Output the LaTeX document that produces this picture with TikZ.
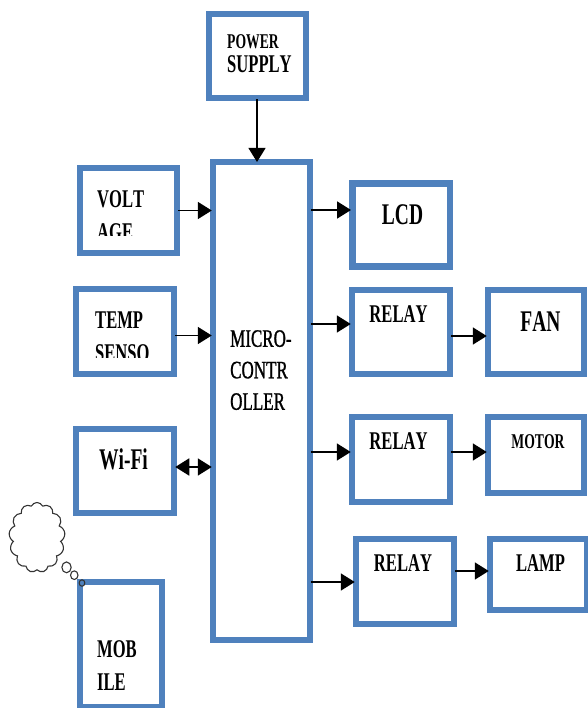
\documentclass[tikz,border=0pt]{standalone}
\usepackage{fontspec}
\usetikzlibrary{arrows.meta,shapes.callouts,shapes.symbols}
\newfontfamily\narrowbf[FakeStretch=0.65,Kerning=Off]{Liberation Serif Bold}
\newfontfamily\narrowrm[FakeStretch=0.68,FakeBold=1,Kerning=Off]{Liberation Serif}
\newcommand*{\labelsize}[2]{\fontsize{#1}{#2}\selectfont\narrowbf}
\definecolor{boxblue}{RGB}{79,129,189}

\begin{document}
\begin{tikzpicture}
[
    x = 1pt, y = -1pt,
    block/.style={draw = boxblue, line width = 6.5pt, inner sep = 0pt},
    label/.style={inner sep = 0pt, align = left, font = \labelsize{25.5}{33}},
    biglabel/.style={label, font = \labelsize{30}{33}},
    smalllabel/.style={label, font = \labelsize{21}{33}},
    arrow/.style={draw, -{Triangle[length = 14pt, width = 17pt]}, line width = 1.8pt, shorten > = -2pt, shorten < = -2pt},
    twoway/.style={arrow, {Triangle[length = 14pt, width = 17pt]}-{Triangle[length = 14pt, width = 17pt]}},
]
\useasboundingbox (0,0) rectangle (587,708);

% Blocks
\node[block, minimum width = 97pt, minimum height = 84pt] (power) at (257.5,56) {};
\node[block, minimum width = 97pt, minimum height = 478pt] (micro) at (261.5,401) {};
\node[block, minimum width = 97pt, minimum height = 85pt] (volt) at (128.5,210.5) {};
\node[block, minimum width = 98pt, minimum height = 85pt] (temp) at (125,331.5) {};
\node[block, minimum width = 98pt, minimum height = 84pt] (wifi) at (125,471) {};
\node[block, minimum width = 82pt, minimum height = 125pt] (mobile) at (121,644.5) {};
\node[block, minimum width = 97.5pt, minimum height = 83pt] (lcd) at (401,225) {};
\node[block, minimum width = 98pt, minimum height = 84pt] (relay1) at (401,332) {};
\node[block, minimum width = 98pt, minimum height = 85pt] (relay2) at (401,459.5) {};
\node[block, minimum width = 98pt, minimum height = 85pt] (relay3) at (405,581.5) {};
\node[block, minimum width = 96pt, minimum height = 84pt] (fan) at (536,332) {};
\node[block, minimum width = 96pt, minimum height = 76pt] (motor) at (536,455) {};
\node[block, minimum width = 97pt, minimum height = 71pt] (lamp) at (538.5,574.5) {};

% Labels
\node[label, anchor = north west, font = \labelsize{25.5}{24}] (powertxt) at (227,34) {{\labelsize{21}{24}POWER}\\SUPPLY};
\node[label, anchor = north west, font = \fontsize{25}{31.5}\selectfont\narrowrm] (microtxt) at (230,330) {MICRO-\\CONTR\\OLLER};
\begin{scope}
    \clip (volt.north west) rectangle (volt.east |- 0,236);
    \node[label, anchor = north west] (volttxt) at (97,190) {VOLT\\AGE};
\end{scope}
\begin{scope}
    \clip (temp.north west) rectangle (temp.east |- 0,357);
    \node[label, anchor = north west] (temptxt) at (95,312) {TEMP\\SENSO};
\end{scope}
\node[biglabel] (wifitxt) at (123.5,459) {Wi-Fi};
\node[label, anchor = north west] (mobtxt) at (97,640) {MOB\\ILE};
\node[biglabel] (lcdtxt) at (402.5,215) {LCD};
\node[label] (relay1txt) at (398.5,314.5) {RELAY};
\node[label] (relay2txt) at (398.5,441.5) {RELAY};
\node[label] (relay3txt) at (403,563.5) {RELAY};
\node[biglabel] (fantxt) at (540.5,322) {FAN};
\node[smalllabel] (motortxt) at (538,442) {MOTOR};
\node[label] (lamptxt) at (540.5,563.5) {LAMP};

% Thought bubble from the mobile
\coordinate (tip) at (82,583);
\node[cloud callout, draw = black!80, line width = 1.1pt, cloud puffs = 13, cloud puff arc = 130,
    minimum width = 56pt, minimum height = 70pt, inner sep = 0pt, aspect = .8,
    callout absolute pointer = {(tip)}, callout pointer segments = 3] (cloud) at (37,537.5) {};

% Connectors
\draw[arrow, line width = 1.2pt] (power.south -| 257,0) -- (257,160);
\draw[arrow] (volt.east) -- (volt.east -| micro.west);
\draw[arrow] ([yshift = -4pt]temp.east) -- ([yshift = -4pt]temp.east -| micro.west);
\draw[twoway] ([yshift = 4pt]wifi.east) -- ([yshift = 4pt]wifi.east -| micro.west);
\draw[arrow] (micro.east |- 0,210) -- (lcd.west |- 0,210);
\draw[arrow] (micro.east |- 0,324) -- (relay1.west |- 0,324);
\draw[arrow] (micro.east |- 0,452) -- (relay2.west |- 0,452);
\draw[arrow] (micro.east |- 0,582) -- (relay3.west |- 0,582);
\draw[arrow] (relay1.east |- 0,336) -- (fan.west |- 0,336);
\draw[arrow] (relay2.east |- 0,452) -- (motor.west |- 0,452);
\draw[arrow] (relay3.east |- 0,571) -- (lamp.west |- 0,571);
\end{tikzpicture}
\end{document}
